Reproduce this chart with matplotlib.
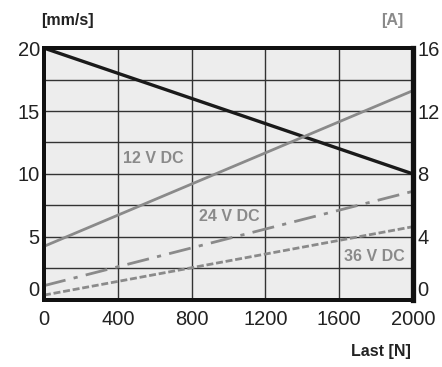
import matplotlib
matplotlib.use("Agg")
import matplotlib.pyplot as plt

# load in N
load = [0, 2000]
# speed in mm/s (left axis)
speed = [20, 10]
# current in A (right axis)
current_12v = [3.4, 13.3]
current_24v = [0.9, 6.9]
current_36v = [0.3, 4.65]

x_ticks = [0, 400, 800, 1200, 1600, 2000]
left_ticks = [0, 5, 10, 15, 20]
right_ticks = [0, 4, 8, 12, 16]

GREY = "#8a8a8a"
lab = "Liberation Sans"

fig = plt.figure(figsize=(4.42, 3.67), dpi=100)
ax = fig.add_axes([0.0995, 0.183, 0.835, 0.686])
ax.set_facecolor("#ededed")
ax2 = ax.twinx()

ax.plot(load, speed, color="#1a1a1a", lw=2.4, zorder=5)
ax2.plot(load, current_12v, color=GREY, lw=2.0)
ax2.plot(load, current_24v, color=GREY, lw=2.0, dashes=(8, 3, 1.5, 3))
ax2.plot(load, current_36v, color=GREY, lw=2.0, dashes=(2.5, 1))

ax.set_xlim(0, 2000)
ax.set_ylim(0, 20)
ax2.set_ylim(0, 16)
ax.set_xticks(x_ticks)
grid_y = [i * 2.5 for i in range(9)]
ax.set_yticks(grid_y)
ax.set_yticklabels([str(int(v)) if v in left_ticks else "" for v in grid_y])
ax2.set_yticks(right_ticks)
ax.grid(True, color="#333333", lw=1.0)
ax.tick_params(axis="y", length=0, labelsize=14.5, pad=3)
ax.tick_params(axis="x", length=0, labelsize=14.5, pad=7)
ax2.tick_params(length=0, labelsize=14.5, pad=3)
for t in ax.get_xticklabels() + ax.get_yticklabels() + ax2.get_yticklabels():
    t.set_fontfamily(lab)
    t.set_color("#222222")
# zero labels sit above the bottom frame
ax.get_yticklabels()[0].set_va("bottom")
ax2.get_yticklabels()[0].set_va("bottom")

for a in (ax, ax2):
    for s in a.spines.values():
        s.set_linewidth(2.8)
        s.set_color("#111111")
ax2.spines["right"].set_linewidth(3.8)

fs = 11.5
fig.text(0.092, 0.945, "[mm/s]", family=lab, weight="bold", fontsize=fs, color="#222222", va="center")
fig.text(0.912, 0.945, "[A]", family=lab, weight="bold", fontsize=fs, color=GREY, ha="right", va="center")
fig.text(0.93, 0.041, "Last [N]", family=lab, weight="bold", fontsize=fs, color="#222222", ha="right", va="center")

ax2.text(430, 9.0, "12 V DC", family=lab, weight="bold", fontsize=fs, color=GREY, va="center")
ax2.text(840, 5.27, "24 V DC", family=lab, weight="bold", fontsize=fs, color=GREY, va="center")
ax2.text(1957, 2.73, "36 V DC", family=lab, weight="bold", fontsize=fs, color=GREY, ha="right", va="center")

fig.savefig("out.png", dpi=100)
